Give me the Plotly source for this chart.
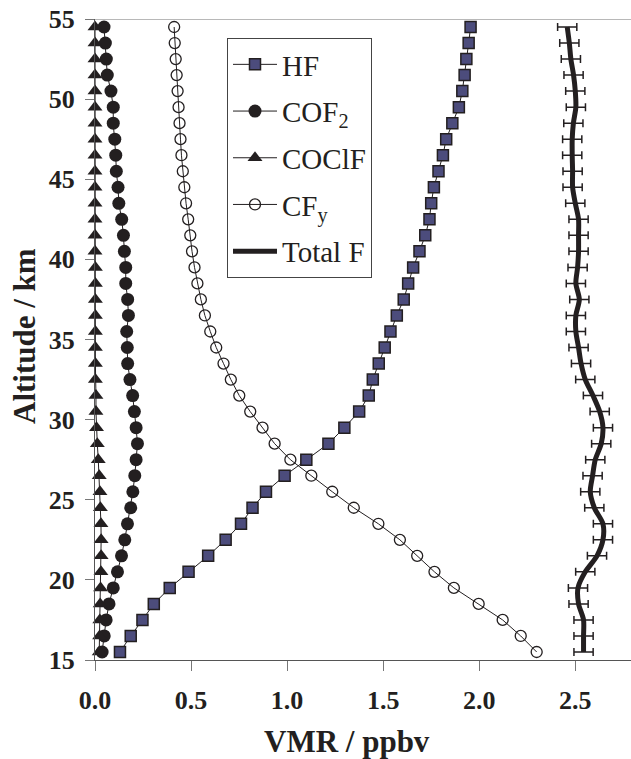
import plotly.graph_objects as go

# Altitude grid (km), one value per 1 km layer
altitude = [15.5 + i for i in range(40)]

hf = [0.130, 0.186, 0.247, 0.306, 0.389, 0.487, 0.589, 0.680, 0.760, 0.820,
      0.890, 0.987, 1.100, 1.215, 1.298, 1.375, 1.425, 1.446, 1.477, 1.508,
      1.538, 1.571, 1.607, 1.630, 1.656, 1.689, 1.719, 1.741, 1.750, 1.764,
      1.788, 1.811, 1.828, 1.860, 1.894, 1.912, 1.924, 1.933, 1.945, 1.955]

cof2 = [0.037, 0.048, 0.058, 0.073, 0.095, 0.117, 0.138, 0.155, 0.169, 0.186,
        0.197, 0.207, 0.214, 0.221, 0.214, 0.205, 0.196, 0.182, 0.170, 0.168,
        0.165, 0.174, 0.170, 0.160, 0.160, 0.153, 0.148, 0.139, 0.124, 0.120,
        0.111, 0.108, 0.103, 0.095, 0.095, 0.083, 0.064, 0.059, 0.054, 0.047]

coclf = [0.022, 0.024, 0.025, 0.027, 0.029, 0.031, 0.032, 0.032, 0.031, 0.028,
         0.026, 0.022, 0.017, 0.012, 0.008, 0.005, 0.005, 0.002, 0.002, 0.002,
         0.002, 0.002, 0.002, 0.002, 0.002, 0.0, 0.0, 0.0, 0.0, 0.0,
         0.0, 0.0, 0.0, 0.0, 0.0, 0.0, 0.0, 0.0, 0.0, 0.0]

cfy = [2.299, 2.216, 2.122, 1.997, 1.868, 1.767, 1.677, 1.587, 1.475, 1.347,
       1.235, 1.126, 1.017, 0.935, 0.872, 0.808, 0.751, 0.707, 0.669, 0.631,
       0.600, 0.572, 0.551, 0.533, 0.518, 0.505, 0.496, 0.485, 0.474, 0.465,
       0.457, 0.450, 0.445, 0.440, 0.435, 0.430, 0.425, 0.420, 0.415, 0.412]

total_f = [2.543, 2.543, 2.543, 2.517, 2.514, 2.552, 2.613, 2.644, 2.644, 2.599,
           2.578, 2.590, 2.604, 2.635, 2.644, 2.627, 2.592, 2.552, 2.530, 2.517,
           2.503, 2.503, 2.521, 2.503, 2.512, 2.517, 2.517, 2.517, 2.500, 2.486,
           2.486, 2.484, 2.484, 2.490, 2.503, 2.500, 2.491, 2.477, 2.469, 2.458]

total_f_err = [0.05] * 40

x_ticks = [0.0, 0.5, 1.0, 1.5, 2.0, 2.5]
y_ticks = [15, 20, 25, 30, 35, 40, 45, 50, 55]

INK = "#231f20"
SERIF = "Liberation Serif"

fig = go.Figure()

fig.add_trace(go.Scatter(
    x=hf, y=altitude, name="HF", mode="lines+markers", legendgroup="hf",
    line=dict(color=INK, width=1), cliponaxis=False,
    marker=dict(symbol="square", size=11, color="#4c4c7c",
                line=dict(color=INK, width=1.5)),
))
fig.add_trace(go.Scatter(
    x=cof2, y=altitude, name="COF<sub>2</sub>", mode="lines+markers", legendgroup="cof2",
    line=dict(color=INK, width=1), cliponaxis=False,
    marker=dict(symbol="circle", size=13, color=INK, line=dict(width=0)),
))
fig.add_trace(go.Scatter(
    x=coclf, y=altitude, name="COClF", mode="lines+markers", legendgroup="coclf",
    line=dict(color=INK, width=1), cliponaxis=False,
    marker=dict(symbol="triangle-up", size=13, color=INK, line=dict(width=0)),
))
fig.add_trace(go.Scatter(
    x=cfy, y=altitude, name="CF<sub>y</sub>", mode="lines+markers", legendgroup="cfy",
    line=dict(color=INK, width=1), cliponaxis=False,
    marker=dict(symbol="circle-open", size=11, color=INK, line=dict(width=1.3)),
))
fig.add_trace(go.Scatter(
    x=total_f, y=altitude, name="Total F", mode="lines", legendgroup="total",
    line=dict(color=INK, width=5, shape="spline", smoothing=0.8),
    error_x=dict(type="data", array=total_f_err, visible=True,
                 color=INK, thickness=1.5, width=4),
))

# thin grey frame line along the top of the plot area
fig.add_shape(type="line", xref="paper", yref="y", x0=0, x1=1, y0=55, y1=55,
              line=dict(color="#a0a0a0", width=1.5), layer="below")

fig.add_annotation(text="<b>VMR / ppbv</b>", xref="paper", yref="paper",
                   x=(347 - 95) / 536, y=-(741 - 660) / 641, showarrow=False,
                   font=dict(family=SERIF, size=31, color=INK),
                   xanchor="center", yanchor="middle")
fig.add_annotation(text="<b>Altitude / km</b>", xref="paper", yref="paper",
                   x=-(95 - 24) / 536, y=1 - (336 - 19) / 641, showarrow=False,
                   textangle=-90, font=dict(family=SERIF, size=31, color=INK),
                   xanchor="center", yanchor="middle")

fig.update_layout(
    width=631, height=759,
    margin=dict(l=95, r=0, t=19, b=99),
    paper_bgcolor="white", plot_bgcolor="white",
    showlegend=True,
    legend=dict(x=(227 - 95) / 536, y=1 - (38 - 19) / 641,
                xanchor="left", yanchor="top",
                bgcolor="white", bordercolor="#444", borderwidth=1,
                font=dict(family=SERIF, size=29, color=INK),
                tracegroupgap=6, itemwidth=44),
    xaxis=dict(range=[0, 2.79], tickvals=x_ticks,
               ticktext=[f"<b>{v:.1f}</b>" for v in x_ticks],
               showgrid=False, zeroline=False,
               showline=True, linecolor="#555", linewidth=1,
               ticks="outside", ticklen=10, tickcolor="#777", tickwidth=1,
               ticklabelstandoff=7,
               tickfont=dict(family=SERIF, size=26, color=INK)),
    yaxis=dict(range=[15, 55], tickvals=y_ticks,
               ticktext=[f"<b>{v}</b>" for v in y_ticks],
               showgrid=False, zeroline=False,
               showline=True, linecolor="#555", linewidth=1,
               ticks="outside", ticklen=9, tickcolor="#777", tickwidth=1,
               ticklabelstandoff=5,
               tickfont=dict(family=SERIF, size=26, color=INK)),
)

fig.write_html("out.html")
